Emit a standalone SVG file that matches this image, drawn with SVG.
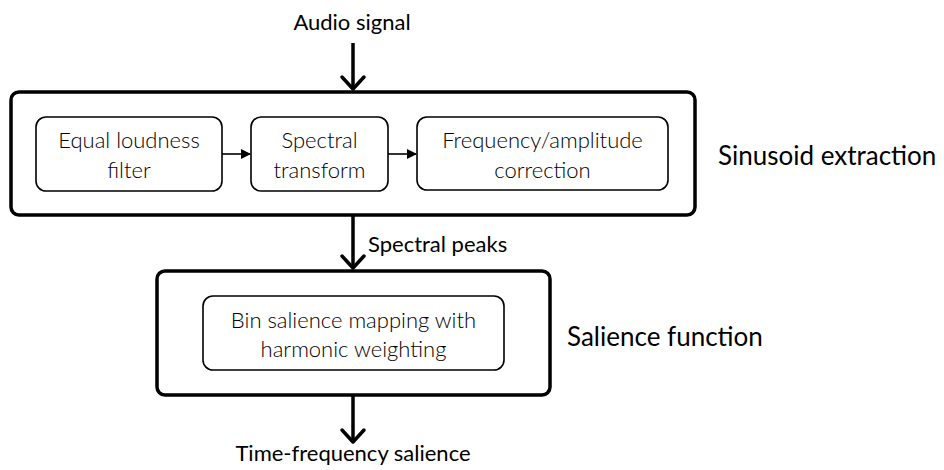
<svg xmlns="http://www.w3.org/2000/svg" width="944" height="470" viewBox="0 0 944 470">
<style>
.outer{fill:#fff;stroke:#000;stroke-width:3.5}
.inner{fill:#fff;stroke:#000;stroke-width:1.6}
.t{font-family:Lato,"Open Sans","Liberation Sans",sans-serif;fill:#000}
.in{font-size:22px;font-weight:300;text-anchor:middle}
.lab{font-size:22px}
.big{font-size:26px}
.c{fill:none;stroke:#000;stroke-width:3.5}
.cs{fill:none;stroke:#000;stroke-width:1.6}
.v{fill:none;stroke:#000;stroke-width:3.5;stroke-linecap:round;stroke-linejoin:round}
</style>
<defs>
<marker id="tri" markerWidth="10" markerHeight="10" refX="9" refY="5" orient="auto" markerUnits="userSpaceOnUse">
<path d="M0,0 L10,5 L0,10 Z" fill="#000"/>
</marker>
</defs>
<g id="sinusoid-extraction">
<rect class="outer" x="11" y="92" width="684" height="123" rx="8"/>
<text class="t big" x="718" y="165">Sinusoid extraction</text>
</g>
<g id="equal-loudness">
<rect class="inner" x="36" y="117" width="186" height="74" rx="10"/>
<text class="t in" x="129" y="148">Equal loudness</text>
<text class="t in" x="129" y="178">filter</text>
</g>
<g id="spectral-transform">
<rect class="inner" x="251" y="117" width="137" height="74" rx="10"/>
<text class="t in" x="319.5" y="148">Spectral</text>
<text class="t in" x="319.5" y="178">transform</text>
</g>
<g id="freq-amp-correction">
<rect class="inner" x="417" y="117" width="251" height="73" rx="10"/>
<text class="t in" x="542.5" y="148">Frequency/amplitude</text>
<text class="t in" x="542.5" y="178">correction</text>
</g>
<g id="salience-function">
<rect class="outer" x="157" y="271" width="393" height="124" rx="8"/>
<text class="t big" x="567" y="346">Salience function</text>
</g>
<g id="bin-salience">
<rect class="inner" x="203" y="296" width="301" height="74" rx="10"/>
<text class="t in" x="353.5" y="328">Bin salience mapping with</text>
<text class="t in" x="353.5" y="357">harmonic weighting</text>
</g>
<g id="connectors">
<text class="t lab" x="352" y="30" text-anchor="middle">Audio signal</text>
<line class="c" x1="353" y1="43" x2="353" y2="89"/>
<polyline class="v" points="342,77 353,89 364,77"/>
<line class="cs" x1="222" y1="154" x2="250" y2="154" marker-end="url(#tri)"/>
<line class="cs" x1="388" y1="154" x2="416" y2="154" marker-end="url(#tri)"/>
<line class="c" x1="353" y1="216" x2="353" y2="268"/>
<polyline class="v" points="342,256 353,268 364,256"/>
<text class="t lab" x="368" y="252">Spectral peaks</text>
<line class="c" x1="353" y1="396" x2="353" y2="442"/>
<polyline class="v" points="342,430 353,442 364,430"/>
<text class="t lab" x="353" y="461" text-anchor="middle">Time-frequency salience</text>
</g>
</svg>
